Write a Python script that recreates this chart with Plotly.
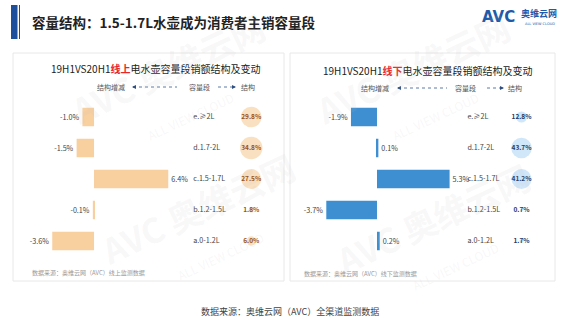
import plotly.graph_objects as go

W, H = 580, 326
FONT = "Noto Sans CJK SC"

categories = ["a.0-1.2L", "b.1.2-1.5L", "c.1.5-1.7L", "d.1.7-2L", "e.≥2L"]
online_change = [-3.6, -0.1, 6.4, -1.5, -1.0]
online_share = [6.0, 1.8, 27.5, 34.8, 29.8]
offline_change = [0.2, -3.7, 5.3, 0.1, -1.9]
offline_share = [1.7, 0.7, 41.2, 43.7, 12.8]

title = "容量结构：1.5-1.7L水壶成为消费者主销容量段"
online_title = "19H1VS20H1<span style='color:#e8262a'><b>线上</b></span>电水壶容量段销额结构及变动"
offline_title = "19H1VS20H1<span style='color:#e8262a'><b>线下</b></span>电水壶容量段销额结构及变动"
head_labels = ["结构增减", "容量段", "结构"]
online_note = "数据来源：奥维云网（AVC）线上监测数据"
offline_note = "数据来源：奥维云网（AVC）线下监测数据"
source = "数据来源：奥维云网（AVC）全渠道监测数据"


def px(x):
    return x / W


def py(y):
    return 1 - y / H


def pct(v):
    return f"{v:.1f}%"


fig = go.Figure()

# --- online panel (x / y)
fig.add_trace(go.Bar(
    x=online_change, y=categories, orientation="h", xaxis="x", yaxis="y",
    marker=dict(color="#f8cf9f", line=dict(width=0)), width=0.6,
    text=[pct(v) for v in online_change], textposition="outside",
    textfont=dict(size=7.2, color="#444", family=FONT), cliponaxis=False,
    showlegend=False, hoverinfo="skip"))
fig.add_trace(go.Scatter(
    x=[8.55] * len(categories), y=categories, mode="text", xaxis="x", yaxis="y",
    text=categories, textposition="middle right",
    textfont=dict(size=7.2, color="#444", family=FONT), showlegend=False, hoverinfo="skip"))
fig.add_trace(go.Scatter(
    x=[13.55] * len(categories), y=categories, mode="markers+text", xaxis="x", yaxis="y",
    marker=dict(size=[3.8 * v ** 0.5 for v in online_share], color="#f7d3a6", line=dict(width=0)),
    text=[f"<b>{pct(v)}</b>" for v in online_share], textposition="middle center",
    textfont=dict(size=6.5, color="#9a5214", family=FONT), cliponaxis=False,
    showlegend=False, hoverinfo="skip"))

# --- offline panel (x2 / y)
fig.add_trace(go.Bar(
    x=offline_change, y=categories, orientation="h", xaxis="x2", yaxis="y",
    marker=dict(color="#3d8fd1", line=dict(width=0)), width=0.6,
    text=[pct(v) for v in offline_change], textposition="outside",
    textfont=dict(size=7.2, color="#444", family=FONT), cliponaxis=False,
    showlegend=False, hoverinfo="skip"))
fig.add_trace(go.Scatter(
    x=[6.6] * len(categories), y=categories, mode="text", xaxis="x2", yaxis="y",
    text=categories, textposition="middle right",
    textfont=dict(size=7.2, color="#444", family=FONT), showlegend=False, hoverinfo="skip"))
fig.add_trace(go.Scatter(
    x=[10.55] * len(categories), y=categories, mode="markers+text", xaxis="x2", yaxis="y",
    marker=dict(size=[3.1 * v ** 0.5 for v in offline_share], color="#bcdcf6", line=dict(width=0)),
    text=[f"<b>{pct(v)}</b>" for v in offline_share], textposition="middle center",
    textfont=dict(size=6.5, color="#1f3a5f", family=FONT), cliponaxis=False,
    showlegend=False, hoverinfo="skip"))

hidden = dict(visible=False, showgrid=False, zeroline=False, fixedrange=True)
fig.update_layout(
    width=W, height=H, margin=dict(l=0, r=0, t=0, b=0),
    paper_bgcolor="white", plot_bgcolor="rgba(0,0,0,0)",
    font=dict(family=FONT, color="#444"),
    xaxis=dict(domain=[px(20), px(280)], range=[-6.38, 16.03], anchor="y", **hidden),
    xaxis2=dict(domain=[px(290), px(560)], range=[-6.35, 13.36], anchor="y", **hidden),
    yaxis=dict(domain=[py(256.5), py(101.5)], range=[-0.5, 4.5], type="category",
               categoryorder="array", categoryarray=categories, **hidden),
    bargap=0.4,
)

shapes = [
    # title bar
    dict(type="rect", xref="paper", yref="paper", x0=px(11), x1=px(17.5), y0=py(39), y1=py(5),
         fillcolor="#1d4f9c", line=dict(width=0), layer="below"),
    dict(type="rect", xref="paper", yref="paper", x0=px(19), x1=px(20), y0=py(39), y1=py(5),
         fillcolor="#1d4f9c", line=dict(width=0), layer="below"),
    # panels
    dict(type="rect", xref="paper", yref="paper", x0=px(13), x1=px(284), y0=py(281), y1=py(53),
         fillcolor="white", line=dict(color="#e8e8e8", width=1), layer="below"),
    dict(type="rect", xref="paper", yref="paper", x0=px(290), x1=px(555), y0=py(281), y1=py(53),
         fillcolor="white", line=dict(color="#e8e8e8", width=1), layer="below"),
]

annotations = [
    dict(text=f"<b>{title}</b>", x=px(30), y=py(22), xanchor="left", yanchor="middle",
         font=dict(size=13.5, color="#222")),
    dict(text="<b>AVC</b>", x=px(480), y=py(17), xanchor="left", yanchor="middle",
         font=dict(size=15, color="#1e5aa8", family="DejaVu Sans")),
    dict(text="<b>奥维云网</b>", x=px(519), y=py(14), xanchor="left", yanchor="middle",
         font=dict(size=9, color="#1e5aa8")),
    dict(text="ALL VIEW CLOUD", x=px(523), y=py(24), xanchor="left", yanchor="middle",
         font=dict(size=3.5, color="#1e5aa8", family="DejaVu Sans")),
    dict(text=online_title, x=px(155), y=py(68), xanchor="center", yanchor="middle",
         font=dict(size=10, color="#222")),
    dict(text=offline_title, x=px(427), y=py(70), xanchor="center", yanchor="middle",
         font=dict(size=10, color="#222")),
    dict(text=online_note, x=px(30), y=py(272), xanchor="left", yanchor="middle",
         font=dict(size=6, color="#999")),
    dict(text=offline_note, x=px(302), y=py(273), xanchor="left", yanchor="middle",
         font=dict(size=6, color="#999")),
    dict(text=source, x=px(290), y=py(311), xanchor="center", yanchor="middle",
         font=dict(size=9, color="#444")),
]

# header rows with dashed arrows
for (t1, a1, a2, t2, b1, b2, t3, yy) in [
        (111, 133, 177, 199, 218, 235, 248, 87),
        (375, 398, 447, 465, 487, 503, 515, 88)]:
    annotations += [
        dict(text=head_labels[0], x=px(t1), y=py(yy), xanchor="center", yanchor="middle",
             font=dict(size=7, color="#555")),
        dict(text=head_labels[1], x=px(t2), y=py(yy), xanchor="center", yanchor="middle",
             font=dict(size=7, color="#555")),
        dict(text=head_labels[2], x=px(t3), y=py(yy), xanchor="center", yanchor="middle",
             font=dict(size=7, color="#555")),
        dict(text="", x=px(a1 - 1), y=py(yy), ax=4, ay=0, showarrow=True, arrowhead=2,
             arrowsize=0.8, arrowwidth=1, arrowcolor="#2f4f80"),
        dict(text="", x=px(b2 + 1), y=py(yy), ax=-4, ay=0, showarrow=True, arrowhead=2,
             arrowsize=0.8, arrowwidth=1, arrowcolor="#2f4f80"),
    ]
    shapes += [
        dict(type="line", xref="paper", yref="paper", x0=px(a1), x1=px(a2), y0=py(yy), y1=py(yy),
             line=dict(color="#5a7aa8", width=1, dash="dot")),
        dict(type="line", xref="paper", yref="paper", x0=px(b1), x1=px(b2), y0=py(yy), y1=py(yy),
             line=dict(color="#5a7aa8", width=1, dash="dot")),
    ]

# faint watermarks
for (wx, wy) in [(205, 225), (440, 235), (175, 85), (420, 85)]:
    annotations.append(dict(text="<b>AVC 奥维云网</b><br><span style='font-size:12px'>ALL VIEW CLOUD</span>",
                            x=px(wx), y=py(wy), xanchor="center", yanchor="middle", textangle=-25,
                            font=dict(size=34, color="rgba(190,190,190,0.11)")))

for a in annotations:
    a.setdefault("xref", "paper")
    a.setdefault("yref", "paper")
    a.setdefault("showarrow", False)

fig.update_layout(shapes=shapes, annotations=annotations)
fig.write_html("out.html")
